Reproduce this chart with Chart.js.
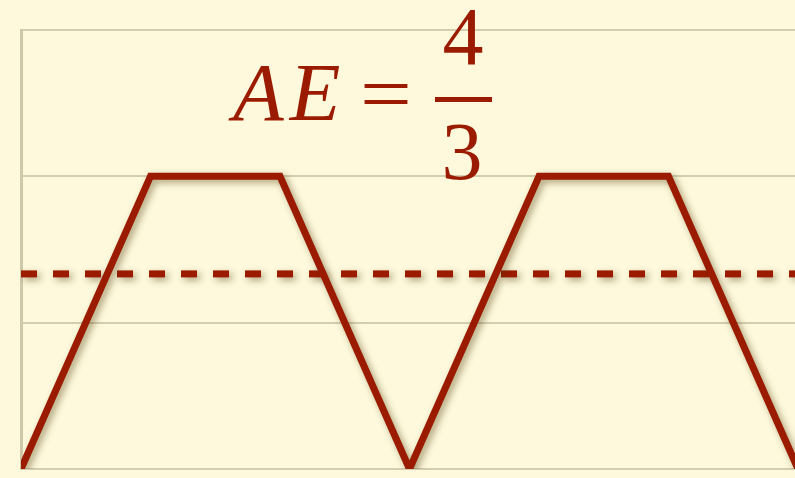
<!DOCTYPE html>
<html>
<head>
<meta charset="utf-8">
<script src="https://cdn.jsdelivr.net/npm/chart.js@4"></script>
<style>
  html, body { margin: 0; padding: 0; background: #fef9dc; overflow: hidden; }
  #wrap { width: 800px; height: 478px; }
</style>
</head>
<body>
<div id="wrap"><canvas id="aeChart" width="800" height="478"></canvas></div>
<script>
// wave: rise, flat, fall, repeated
const xValues = [0, 1, 2, 3, 4, 5, 6];
const waveValues = [0, 2, 2, 0, 2, 2, 0];
const averageValue = 4 / 3;
const yTicks = [0, 1, 2, 3];

const red = "#9b1b00";

const shadowPlugin = {
  id: "shadow",
  beforeDatasetsDraw(chart) {
    const ctx = chart.ctx;
    ctx.save();
    ctx.shadowColor = "rgba(70, 50, 0, 0.45)";
    ctx.shadowBlur = 7;
    ctx.shadowOffsetX = 3;
    ctx.shadowOffsetY = 3;
  },
  afterDatasetsDraw(chart) {
    chart.ctx.restore();
  },
};

const labelPlugin = {
  id: "aeLabel",
  afterDraw(chart) {
    const ctx = chart.ctx;
    ctx.save();
    ctx.fillStyle = red;
    ctx.textBaseline = "alphabetic";
    ctx.textAlign = "left";
    ctx.font = "italic 83px 'Liberation Serif'";
    ctx.fillText("A", 233, 120);
    ctx.fillText("E", 233 + ctx.measureText("A").width + 6, 120);
    // equals sign, a bit wider like a math font
    ctx.save();
    ctx.translate(386, 0);
    ctx.scale(1.15, 1);
    ctx.font = "80px 'Liberation Serif'";
    ctx.textAlign = "center";
    ctx.fillText("=", 0, 121);
    ctx.restore();
    ctx.fillRect(435, 97, 57, 5);
    ctx.textAlign = "center";
    ctx.font = "82px 'Liberation Serif'";
    ctx.fillText("4", 463, 64);
    ctx.fillText("3", 462, 179);
    ctx.restore();
  },
};

new Chart(document.getElementById("aeChart").getContext("2d"), {
  type: "line",
  data: {
    datasets: [
      {
        label: "wave",
        data: xValues.map((x, i) => ({ x: x, y: waveValues[i] })),
        borderColor: red,
        borderWidth: 7,
        borderJoinStyle: "miter",
        pointRadius: 0,
        tension: 0,
      },
      {
        label: "AE",
        data: [
          { x: xValues[0], y: averageValue },
          { x: xValues[xValues.length - 1], y: averageValue },
        ],
        borderColor: red,
        borderWidth: 7,
        borderDash: [16, 16],
        pointRadius: 0,
      },
    ],
  },
  plugins: [shadowPlugin, labelPlugin],
  options: {
    responsive: false,
    animation: false,
    layout: { padding: { left: 21, top: 30, right: 2, bottom: 1 } },
    plugins: { legend: { display: false }, tooltip: { enabled: false } },
    scales: {
      x: {
        type: "linear",
        min: xValues[0],
        max: xValues[xValues.length - 1],
        ticks: { display: false },
        grid: { display: false },
        border: { display: false },
      },
      y: {
        min: yTicks[0],
        max: yTicks[yTicks.length - 1],
        afterBuildTicks: (axis) => {
          axis.ticks = yTicks.map((v) => ({ value: v }));
        },
        ticks: { display: false },
        grid: { color: "#d4ceb0", lineWidth: 2, drawTicks: false },
        border: { color: "#cfc9aa", width: 3 },
      },
    },
  },
});
</script>
</body>
</html>
